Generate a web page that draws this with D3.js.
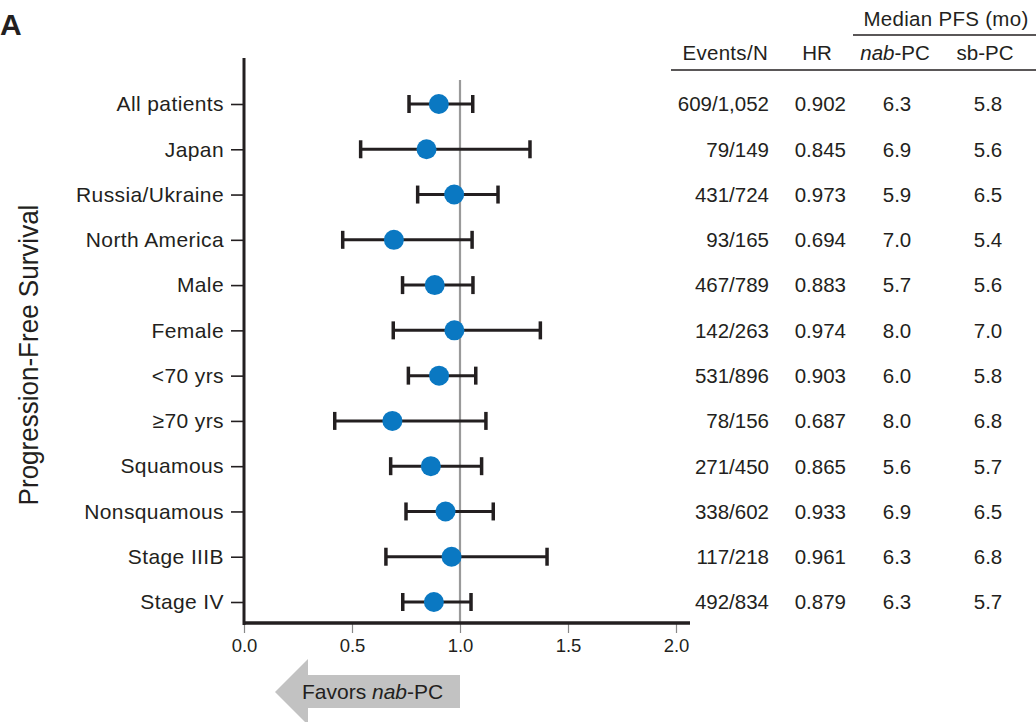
<!DOCTYPE html>
<html><head><meta charset="utf-8">
<script src="https://cdn.jsdelivr.net/npm/d3@7/dist/d3.min.js"></script>
<style>body{margin:0;background:#fff}svg{display:block}text{font-family:"Liberation Sans",Arial,sans-serif;fill:#231f20}</style>
</head><body>
<script>
const categories = ["All patients","Japan","Russia/Ukraine","North America","Male","Female","<70 yrs","\u226570 yrs","Squamous","Nonsquamous","Stage IIIB","Stage IV"];
const hr = [0.902,0.845,0.973,0.694,0.883,0.974,0.903,0.687,0.865,0.933,0.961,0.879];
const ciLow = [0.764,0.540,0.804,0.457,0.734,0.691,0.761,0.420,0.679,0.750,0.657,0.735];
const ciHigh = [1.059,1.324,1.176,1.056,1.060,1.372,1.073,1.120,1.100,1.154,1.403,1.051];
const events = ["609/1,052","79/149","431/724","93/165","467/789","142/263","531/896","78/156","271/450","338/602","117/218","492/834"];
const hrText = ["0.902","0.845","0.973","0.694","0.883","0.974","0.903","0.687","0.865","0.933","0.961","0.879"];
const nabPC = ["6.3","6.9","5.9","7.0","5.7","8.0","6.0","8.0","5.6","6.9","6.3","6.3"];
const sbPC = ["5.8","5.6","6.5","5.4","5.6","7.0","5.8","6.8","5.7","6.5","6.8","5.7"];
const xTicks = [0,0.5,1,1.5,2];

const W=1036,H=722;
const svg=d3.select("body").append("svg").attr("width",W).attr("height",H);
const x=d3.scaleLinear().domain([0,2]).range([244,676]);
const y=d3.scalePoint().domain(categories).range([104,602]);
const ink="#231f20";

// panel letter
svg.append("text").attr("x",0).attr("y",35).attr("font-size",30).attr("font-weight","bold").text("A");

// y title
svg.append("text").attr("transform","translate(38,355) rotate(-90) scale(0.93,1)").attr("text-anchor","middle")
  .attr("font-size",28).text("Progression-Free Survival");

// reference line
svg.append("line").attr("x1",x(1)).attr("x2",x(1)).attr("y1",80).attr("y2",623).attr("stroke","#9a9a9a").attr("stroke-width",2.2);

// x axis
const xa=svg.append("g").attr("transform","translate(0,623)")
  .call(d3.axisBottom(x).tickValues(xTicks).tickFormat(d3.format(".1f")).tickSize(10).tickSizeOuter(0));
xa.select(".domain").remove();
xa.selectAll(".tick line").attr("stroke","#888").attr("stroke-width",1.2);
xa.selectAll(".tick text").attr("font-size",18.5).attr("dy","0.75em").attr("y",15).attr("fill",ink).style("font-family","'Liberation Sans',Arial,sans-serif");
svg.append("line").attr("x1",243).attr("x2",690).attr("y1",623).attr("y2",623).attr("stroke",ink).attr("stroke-width",3.5);

// y axis
const ya=svg.append("g").attr("transform","translate(244,0)")
  .call(d3.axisLeft(y).tickSize(13).tickPadding(7));
ya.select(".domain").remove();
ya.selectAll(".tick line").attr("stroke",ink).attr("stroke-width",1.6);
ya.selectAll(".tick text").attr("font-size",21).attr("letter-spacing","0.4px").attr("fill",ink).style("font-family","'Liberation Sans',Arial,sans-serif");
svg.append("line").attr("x1",244).attr("x2",244).attr("y1",58).attr("y2",625).attr("stroke",ink).attr("stroke-width",3);

// error bars
const rows=svg.append("g").selectAll("g").data(categories).join("g").attr("transform",d=>`translate(0,${y(d)})`);
rows.append("line").attr("x1",(d,i)=>x(ciLow[i])).attr("x2",(d,i)=>x(ciHigh[i])).attr("stroke",ink).attr("stroke-width",3);
rows.append("line").attr("x1",(d,i)=>x(ciLow[i])).attr("x2",(d,i)=>x(ciLow[i])).attr("y1",-9).attr("y2",9).attr("stroke",ink).attr("stroke-width",3.5);
rows.append("line").attr("x1",(d,i)=>x(ciHigh[i])).attr("x2",(d,i)=>x(ciHigh[i])).attr("y1",-9).attr("y2",9).attr("stroke",ink).attr("stroke-width",3.5);
rows.append("circle").attr("cx",(d,i)=>x(hr[i])).attr("r",10).attr("fill","#0a78c2");

// table
const fs=20.5;
function col(vals,xp,anchor){
  svg.append("g").selectAll("text").data(vals).join("text")
    .attr("x",xp).attr("y",(d,i)=>y(categories[i])).attr("dy","0.36em").attr("text-anchor",anchor).attr("font-size",fs).text(d=>d);
}
col(events,769,"end");
col(hrText,846,"end");
col(nabPC,897,"middle");
col(sbPC,988,"middle");

svg.append("text").attr("x",768).attr("y",60).attr("text-anchor","end").attr("font-size",fs).attr("letter-spacing","0.3px").text("Events/N");
svg.append("text").attr("x",817).attr("y",60).attr("text-anchor","middle").attr("font-size",fs).text("HR");
const nh=svg.append("text").attr("x",895).attr("y",60).attr("text-anchor","middle").attr("font-size",fs);
nh.append("tspan").attr("font-style","italic").text("nab");nh.append("tspan").text("-PC");
svg.append("text").attr("x",985).attr("y",60).attr("text-anchor","middle").attr("font-size",fs).text("sb-PC");
svg.append("text").attr("x",946).attr("y",26).attr("text-anchor","middle").attr("font-size",fs).attr("letter-spacing","0.3px").text("Median PFS (mo)");
svg.append("line").attr("x1",853).attr("x2",1036).attr("y1",35).attr("y2",35).attr("stroke",ink).attr("stroke-width",1.5);
svg.append("line").attr("x1",671).attr("x2",1036).attr("y1",70).attr("y2",70).attr("stroke",ink).attr("stroke-width",1.5);

// arrow
const ax0=275, ax1=x(1);
svg.append("path").attr("d",`M${ax0},692 L308,659 L308,675 L${ax1},675 L${ax1},708 L308,708 L308,725 Z`).attr("fill","#c2c2c2");
const at=svg.append("text").attr("x",302).attr("y",699).attr("font-size",21);
at.append("tspan").text("Favors ");at.append("tspan").attr("font-style","italic").text("nab");at.append("tspan").text("-PC");
</script>
</body></html>
